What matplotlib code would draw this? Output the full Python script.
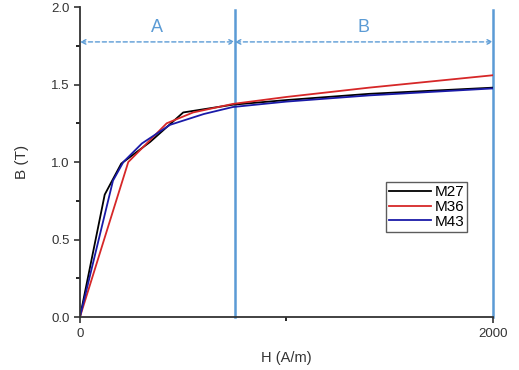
import numpy as np
import matplotlib.pyplot as plt
from matplotlib.ticker import MultipleLocator

plt.rcParams['font.family'] = ['Liberation Sans', 'DejaVu Sans']

# B-H curves
h_m27 = [0, 120, 200, 340, 500, 740, 1000, 1400, 2000]
b_m27 = [0, 0.79, 0.99, 1.13, 1.32, 1.37, 1.40, 1.44, 1.48]

h_m36 = [0, 234, 420, 548, 740, 1000, 1400, 2000]
b_m36 = [0, 1.00, 1.25, 1.32, 1.375, 1.42, 1.48, 1.56]

h_m43 = [0, 160, 210, 300, 436, 600, 740, 1000, 1400, 2000]
b_m43 = [0, 0.88, 1.00, 1.12, 1.24, 1.31, 1.355, 1.39, 1.43, 1.475]

region_edges = [0, 750, 2000]
region_names = ['A', 'B']

fig = plt.figure(figsize=(5.19, 3.70), dpi=100)
ax = fig.add_axes([0.154, 0.143, 0.796, 0.838])

ax.plot(h_m27, b_m27, color='black', lw=1.3, label='M27')
ax.plot(h_m36, b_m36, color='#d62728', lw=1.3, label='M36')
ax.plot(h_m43, b_m43, color='#1a1aa8', lw=1.3, label='M43')

blue = '#5b9bd5'
for x in region_edges[1:]:
    ax.plot([x, x], [0, 1.98], color=blue, lw=1.8, zorder=1, clip_on=False)

for i, name in enumerate(region_names):
    x0, x1 = region_edges[i], region_edges[i + 1]
    ax.annotate('', xy=(x1, 1.775), xytext=(x0, 1.775),
                arrowprops=dict(arrowstyle='<->', color=blue, lw=1,
                                linestyle=(0, (3, 2)), mutation_scale=8,
                                shrinkA=0, shrinkB=0))
    ax.text((x0 + x1) / 2, 1.865, name, color=blue, fontsize=13,
            ha='center', va='center')

ax.set_xlim(0, 2000)
ax.set_ylim(0, 2.0)
ax.set_xticks([0, 2000])
ax.xaxis.set_minor_locator(MultipleLocator(1000))
ax.yaxis.set_major_locator(MultipleLocator(0.5))
ax.yaxis.set_minor_locator(MultipleLocator(0.25))
ax.yaxis.set_major_formatter(plt.FormatStrFormatter('%.1f'))
ax.tick_params(labelsize=9.5, width=1.2, length=4, colors='#333333')
ax.tick_params(which='minor', width=1.2, length=3)

for side in ['top', 'right']:
    ax.spines[side].set_visible(False)
for side in ['left', 'bottom']:
    ax.spines[side].set_linewidth(1.3)
    ax.spines[side].set_color('#333333')

ax.set_xlabel('H (A/m)', fontsize=10.5, labelpad=8, color='#333333')
ax.set_ylabel('B (T)', fontsize=11, labelpad=16, color='#333333')

leg = ax.legend(loc='upper left', bbox_to_anchor=(0.74, 0.435), fontsize=11,
                frameon=True, fancybox=False, handlelength=2.8,
                handletextpad=0.2, borderpad=0.2, labelspacing=0.05,
                borderaxespad=0)
leg.get_frame().set_edgecolor('#333333')
leg.get_frame().set_linewidth(1)

fig.savefig('out.png', dpi=100)
